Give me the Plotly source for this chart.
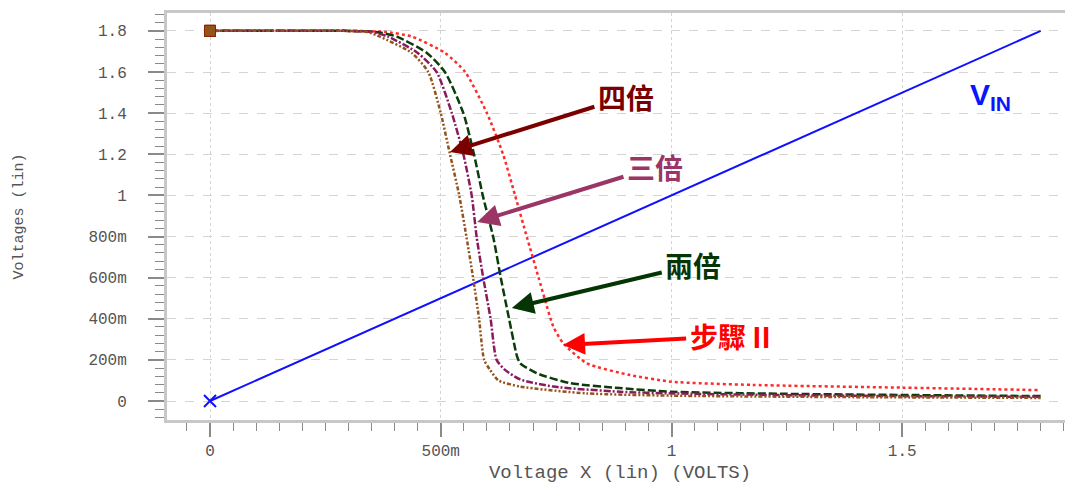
import plotly.graph_objects as go

# ---------------- data ----------------
vin_x = [0.0, 1.8]
vin_y = [0.0, 1.8]

# 步驟 II (red, dotted)
red_x = [0.0, 0.30, 0.38, 0.438, 0.509, 0.553, 0.600, 0.635, 0.661, 0.687, 0.712, 0.726, 0.744, 0.765, 0.816, 0.91, 1.0, 1.177, 1.5, 1.8]
red_y = [1.8, 1.8, 1.795, 1.772, 1.693, 1.6, 1.4, 1.2, 1.0, 0.794, 0.6, 0.491, 0.361, 0.282, 0.184, 0.126, 0.094, 0.078, 0.065, 0.053]

# 兩倍 (green, dashed)
grn_x = [0.0, 0.30, 0.36, 0.405, 0.47, 0.509, 0.549, 0.572, 0.591, 0.614, 0.630, 0.648, 0.665, 0.672, 0.708, 0.78, 0.888, 1.0, 1.28, 1.8]
grn_y = [1.8, 1.8, 1.795, 1.772, 1.693, 1.6, 1.4, 1.2, 1.0, 0.794, 0.6, 0.4, 0.22, 0.184, 0.135, 0.087, 0.063, 0.045, 0.034, 0.024]

# 三倍 (purple, dash-dot)
pur_x = [0.0, 0.30, 0.35, 0.386, 0.45, 0.491, 0.524, 0.549, 0.567, 0.578, 0.592, 0.608, 0.621, 0.64, 0.672, 0.744, 0.888, 1.0, 1.3, 1.8]
pur_y = [1.8, 1.8, 1.795, 1.772, 1.693, 1.6, 1.4, 1.2, 1.0, 0.794, 0.6, 0.4, 0.2, 0.15, 0.105, 0.07, 0.045, 0.037, 0.027, 0.02]

# 四倍 (brown, dash-dot-dot)
brn_x = [0.0, 0.30, 0.34, 0.368, 0.437, 0.473, 0.500, 0.520, 0.540, 0.556, 0.570, 0.583, 0.594, 0.607, 0.625, 0.672, 0.816, 1.0, 1.3, 1.8]
brn_y = [1.8, 1.8, 1.795, 1.772, 1.693, 1.6, 1.4, 1.2, 1.0, 0.794, 0.6, 0.4, 0.2, 0.151, 0.1, 0.07, 0.037, 0.026, 0.02, 0.015]

y_tickvals = [0, 0.2, 0.4, 0.6, 0.8, 1.0, 1.2, 1.4, 1.6, 1.8]
y_ticktext = ["0", "200m", "400m", "600m", "800m", "1", "1.2", "1.4", "1.6", "1.8"]
x_tickvals = [0, 0.5, 1.0, 1.5]
x_ticktext = ["0", "500m", "1", "1.5"]

# ---------------- figure ----------------
fig = go.Figure()

fig.add_trace(go.Scatter(x=vin_x, y=vin_y, mode="lines", name="VIN",
                         line=dict(color="#1010ff", width=2)))
fig.add_trace(go.Scatter(x=red_x, y=red_y, mode="lines", name="步驟 II",
                         line=dict(color="#ff2a2a", width=2.5, dash="dot", shape="spline", smoothing=0.6)))
fig.add_trace(go.Scatter(x=grn_x, y=grn_y, mode="lines", name="兩倍",
                         line=dict(color="#0b3d0b", width=2.5, dash="8px,3px", shape="spline", smoothing=0.6)))
fig.add_trace(go.Scatter(x=pur_x, y=pur_y, mode="lines", name="三倍",
                         line=dict(color="#8a1a5c", width=2.5, dash="7px,2px,2px,2px", shape="spline", smoothing=0.6)))
fig.add_trace(go.Scatter(x=brn_x, y=brn_y, mode="lines", name="四倍",
                         line=dict(color="#94521c", width=2.5, dash="4px,2px,2px,2px,2px,2px", shape="spline", smoothing=0.6)))

# start markers
for xs, ys, col in [(red_x, red_y, "#ff2a2a"), (grn_x, grn_y, "#0b3d0b"),
                    (pur_x, pur_y, "#8a1a5c"), (brn_x, brn_y, "#94521c")]:
    fig.add_trace(go.Scatter(x=[xs[0]], y=[ys[0]], mode="markers", showlegend=False,
                             marker=dict(symbol="square", size=11, color=col,
                                         line=dict(color="#8b2500", width=1))))
fig.add_trace(go.Scatter(x=[vin_x[0]], y=[vin_y[0]], mode="markers", showlegend=False,
                         marker=dict(symbol="x-thin", size=12, line=dict(color="#1010ff", width=2))))

cjk = "Noto Sans CJK TC"
labels = [
    # text, text centre (x,y), color, arrow head (x,y)
    ("四倍", 0.901, 1.479, "#7a0000", 0.520, 1.211),
    ("三倍", 0.964, 1.138, "#9a3566", 0.579, 0.871),
    ("兩倍", 1.047, 0.661, "#053505", 0.654, 0.452),
    ("步驟 II", 1.127, 0.316, "#ff0000", 0.765, 0.272),
]
for txt, tx, ty, col, hx, hy in labels:
    fig.add_annotation(x=hx, y=hy, ax=tx, ay=ty, xref="x", yref="y", axref="x", ayref="y",
                       text=txt, showarrow=True, arrowhead=2, arrowsize=1.1,
                       arrowwidth=4, arrowcolor=col, startstandoff=2,
                       font=dict(family=cjk, size=28, color=col, weight="bold"))

fig.add_annotation(x=1.642, y=1.479, xref="x", yref="y", xanchor="left", text="V<sub>IN</sub>",
                   showarrow=False,
                   font=dict(family="Liberation Sans, Arial", size=30, color="#0a14ff", weight="bold"))

mono = "Liberation Mono, Courier New, monospace"
# the page body adds an 8px offset, so margins are shifted by 8px
fig.update_layout(
    width=1073, height=484,
    margin=dict(l=159, r=8, t=5, b=72),
    paper_bgcolor="white", plot_bgcolor="white",
    showlegend=False,
    xaxis=dict(
        range=[-0.0932, 1.870],
        tickvals=x_tickvals, ticktext=x_ticktext,
        ticks="outside", ticklen=14, tickwidth=1.5, tickcolor="#8a8a8a",
        minor=dict(dtick=0.05, tick0=0, ticks="outside", ticklen=8, tickwidth=1, tickcolor="#8a8a8a", showgrid=False),
        showgrid=True, gridcolor="#d4d4d4", griddash="dot", gridwidth=1,
        showline=True, linecolor="#c8c8c8", linewidth=3, mirror=True,
        zeroline=False, automargin=False,
        tickfont=dict(family=mono, size=16, color="#555555"),
        ticklabelstandoff=0,
        title=dict(text="Voltage X (lin) (VOLTS)", font=dict(family=mono, size=19, color="#555555"), standoff=5),
    ),
    yaxis=dict(
        range=[-0.0924, 1.887],
        tickvals=y_tickvals, ticktext=y_ticktext,
        ticks="outside", ticklen=16, tickwidth=1.5, tickcolor="#8a8a8a",
        minor=dict(dtick=0.04, tick0=0, ticks="outside", ticklen=9, tickwidth=1, tickcolor="#8a8a8a", showgrid=False),
        showgrid=True, gridcolor="#d4d4d4", griddash="dash", gridwidth=1,
        showline=True, linecolor="#c8c8c8", linewidth=3, mirror=True,
        zeroline=False, automargin=False,
        tickfont=dict(family=mono, size=16, color="#555555"),
        ticklabelstandoff=18,
        title=dict(text="Voltages (lin)", font=dict(family=mono, size=15, color="#555555"), standoff=62),
    ),
)

fig.write_html("out.html")
